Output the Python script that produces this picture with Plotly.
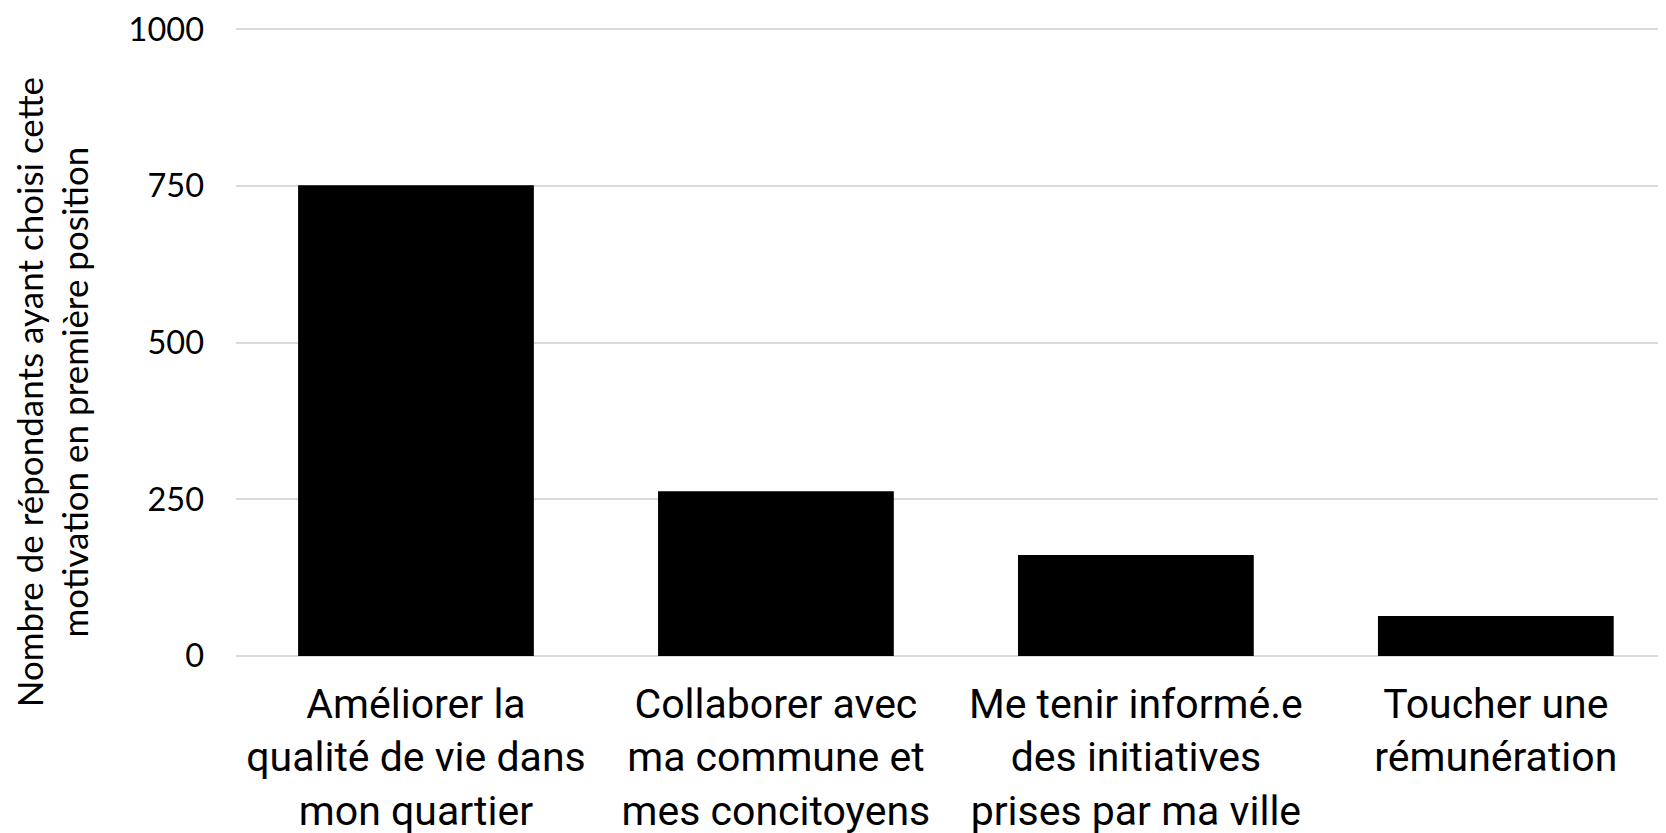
import plotly.graph_objects as go

categories = [
    "Améliorer la<br>qualité de vie dans<br>mon quartier",
    "Collaborer avec<br>ma commune et<br>mes concitoyens",
    "Me tenir informé.e<br>des initiatives<br>prises par ma ville",
    "Toucher une<br>rémunération",
]
counts = [751, 263, 161, 64]
y_ticks = [0, 250, 500, 750, 1000]
y_title = "Nombre de répondants ayant choisi cette<br>motivation en première position"

fig = go.Figure()
fig.add_trace(go.Bar(x=categories, y=counts, marker=dict(color="black", line=dict(width=0))))

# page body has an 8px margin, so offsets are trimmed a bit
fig.update_layout(
    width=1666, height=833,
    margin=dict(l=228, r=0, t=20, b=185),
    plot_bgcolor="white", paper_bgcolor="white",
    bargap=0.345,
    showlegend=False,
    xaxis=dict(
        range=[-0.5, 3.495],
        automargin=False,
        showgrid=False, zeroline=False, showline=False,
        tickfont=dict(family="Roboto", size=41, color="black"),
        ticklabelstandoff=20,
        ticklabeloverflow="allow",
    ),
    yaxis=dict(
        range=[0, 1002],
        tickvals=y_ticks,
        automargin=False,
        showgrid=True, gridcolor="#d9d9d9", gridwidth=2,
        zeroline=True, zerolinecolor="#d9d9d9", zerolinewidth=2,
        showline=False,
        tickfont=dict(family="Lato", size=32.5, color="black"),
        ticklabelstandoff=31,
        ticklabeloverflow="allow",
    ),
)

fig.add_annotation(
    text=y_title, xref="paper", yref="paper", x=0, y=0.42,
    xanchor="center", yanchor="middle", xshift=-184, textangle=-90,
    showarrow=False, font=dict(family="Lato", size=35, color="black"),
)

fig.write_html("out.html")
